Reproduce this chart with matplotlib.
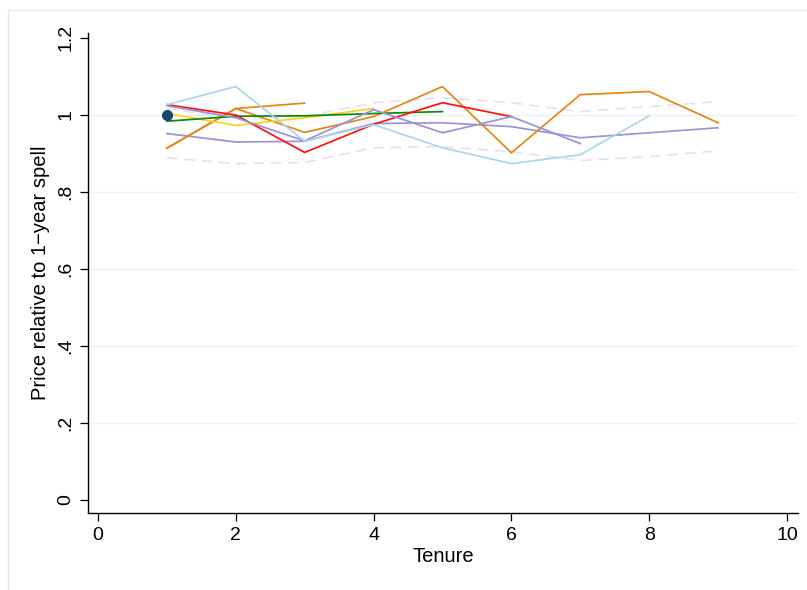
import matplotlib
matplotlib.use("Agg")
import matplotlib.pyplot as plt
from matplotlib.patches import Rectangle

plt.rcParams["font.family"] = ["Liberation Sans", "DejaVu Sans"]

# Tenure-profile of prices, relative to the 1-year spell
tenure_9 = [1, 2, 3, 4, 5, 6, 7, 8, 9]

band_upper = [1.015, 0.990, 0.995, 1.031, 1.044, 1.031, 1.008, 1.021, 1.034]
band_lower = [0.888, 0.873, 0.876, 0.914, 0.917, 0.904, 0.881, 0.891, 0.906]

orange_long = [0.913, 1.016, 0.954, 0.995, 1.073, 0.901, 1.052, 1.060, 0.979]
purple_long = [0.951, 0.929, 0.931, 0.977, 0.979, 0.969, 0.940, 0.953, 0.966]
lightblue_8 = [1.026, 1.073, 0.931, 0.974, 0.914, 0.873, 0.896, 0.997]
purple_7 = [1.023, 0.992, 0.932, 1.013, 0.953, 0.995, 0.925]
red_6 = [1.026, 0.999, 0.902, 0.975, 1.031, 0.995]
green_5 = [0.983, 0.996, 0.997, 1.003, 1.008]
yellow_4 = [1.003, 0.972, 0.992, 1.016]
orange_3 = [0.913, 1.016, 1.030]

base_tenure = [1]
base_value = [1.0]

y_ticks = [0, 0.2, 0.4, 0.6, 0.8, 1.0, 1.2]
y_tick_labels = ["0", ".2", ".4", ".6", ".8", "1", "1.2"]
x_ticks = [0, 2, 4, 6, 8, 10]
x_tick_labels = ["0", "2", "4", "6", "8", "10"]

C_ORANGE = "#e8850f"
C_PURPLE = "#9c92d8"
C_LBLUE = "#aad8e6"
C_RED = "#ff1010"
C_GREEN = "#0a8a0a"
C_YELLOW = "#ffd21a"
C_BAND = "#e2e2f4"
C_NAVY = "#1a476f"
C_GRID = "#eaf2f3"

fig = plt.figure(figsize=(8.07, 5.90), dpi=100)

# outer graph-region border
fig.patches.append(Rectangle((8 / 807, -0.01), 1.02, 1 - 10 / 590 + 0.01,
                             transform=fig.transFigure, fill=False,
                             edgecolor="#dfe7e9", linewidth=1.0))

ax = fig.add_axes([88 / 807, 1 - 513 / 590, (798 - 88) / 807, (513 - 33) / 590])

for yv in y_ticks[1:-1]:
    ax.axhline(yv, color=C_GRID, linewidth=1.0, zorder=0)

def seg(values):
    return tenure_9[:len(values)]

lw = 1.25
ax.plot(tenure_9, band_upper, color=C_BAND, linewidth=lw, dashes=(6, 4), zorder=1)
ax.plot(tenure_9, band_lower, color=C_BAND, linewidth=lw, dashes=(6, 4), zorder=1)

ax.plot(seg(purple_long), purple_long, color=C_PURPLE, linewidth=lw, zorder=2)
ax.plot(seg(orange_long), orange_long, color=C_ORANGE, linewidth=lw, zorder=2)
ax.plot(seg(orange_3), orange_3, color=C_ORANGE, linewidth=lw, zorder=2)
ax.plot(seg(yellow_4), yellow_4, color=C_YELLOW, linewidth=lw, zorder=2)
ax.plot(seg(green_5), green_5, color=C_GREEN, linewidth=lw, zorder=2)
ax.plot(seg(red_6), red_6, color=C_RED, linewidth=lw, zorder=3)
ax.plot(seg(purple_7), purple_7, color=C_PURPLE, linewidth=lw, zorder=3)
ax.plot(seg(lightblue_8), lightblue_8, color=C_LBLUE, linewidth=lw, zorder=3)

ax.plot(base_tenure, base_value, "o", color=C_NAVY, markersize=7, zorder=5)

ax.set_xlim(-0.145, 10.16)
ax.set_ylim(-0.034, 1.212)

ax.set_xticks(x_ticks)
ax.set_xticklabels(x_tick_labels)
ax.set_yticks(y_ticks)
ax.set_yticklabels(y_tick_labels, rotation=90, va="center")

for side in ("top", "right"):
    ax.spines[side].set_visible(False)
for side in ("left", "bottom"):
    ax.spines[side].set_linewidth(1.0)
    ax.spines[side].set_color("black")

ax.tick_params(axis="both", direction="out", length=6, width=0.9,
               labelsize=14, pad=4, colors="black")

ax.set_xlabel("Tenure", fontsize=14.5, labelpad=2)
ax.set_ylabel("Price relative to 1\u2212year spell", fontsize=14.5, labelpad=5)

fig.savefig("out.png", dpi=100, facecolor="white")
